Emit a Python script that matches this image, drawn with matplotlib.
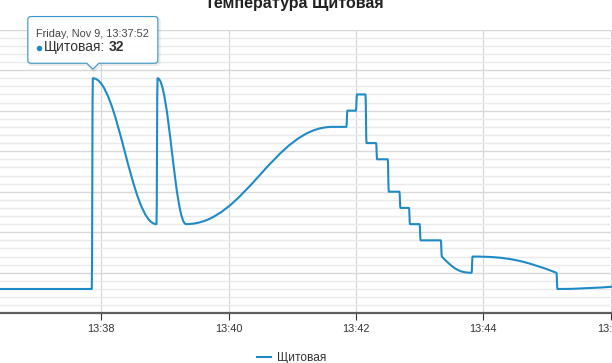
import datetime as dt
import matplotlib
matplotlib.use('Agg')
import matplotlib.pyplot as plt
import matplotlib.dates as mdates
from matplotlib.path import Path
from matplotlib.patches import PathPatch
from matplotlib.lines import Line2D

plt.rcParams['font.family'] = ['Liberation Sans', 'DejaVu Sans']

# data: sensor readings, Friday Nov 9
day = '2018-11-09'
times = ['13:36:00', '13:37:51', '13:37:52', '13:38:52', '13:38:53', '13:39:20',
         '13:41:38', '13:41:51', '13:41:52', '13:42:00', '13:42:01', '13:42:09',
         '13:42:10', '13:42:19', '13:42:20', '13:42:30', '13:42:31', '13:42:41',
         '13:42:42', '13:42:50', '13:42:51', '13:43:00', '13:43:01', '13:43:20',
         '13:43:21', '13:43:49', '13:43:50', '13:45:09', '13:45:10', '13:48:00']
values = [19, 19, 32, 23, 32, 23,
          29, 29, 30, 30, 31, 31,
          28, 28, 27, 27, 25, 25,
          24, 24, 23, 23, 22, 22,
          21, 20, 21, 20, 19, 20]
series_name = 'Щитовая'
title = 'Температура Щитовая'
hover_index = 2

x_start = '13:36:24.5'
x_end = '13:46:01.4'
y_min, y_max = 17.5, 35

color = '#1f8bc6'


def to_dt(s):
    return dt.datetime.fromisoformat(f'{day} {s}')


def spline_path(xs, ys):
    # highcharts style spline: smoothing 1.5, no overshoot
    n = len(xs)
    lc = [(x, y) for x, y in zip(xs, ys)]
    rc = [(x, y) for x, y in zip(xs, ys)]
    for i in range(1, n - 1):
        px, py = xs[i], ys[i]
        lx0, ly0 = xs[i - 1], ys[i - 1]
        nx, ny = xs[i + 1], ys[i + 1]
        lcx = (1.5 * px + lx0) / 2.5
        lcy = (1.5 * py + ly0) / 2.5
        rcx = (1.5 * px + nx) / 2.5
        rcy = (1.5 * py + ny) / 2.5
        if rcx != lcx:
            corr = (rcy - lcy) * (rcx - px) / (rcx - lcx) + py - rcy
            lcy += corr
            rcy += corr
        if lcy > ly0 and lcy > py:
            lcy = max(ly0, py)
            rcy = 2 * py - lcy
        elif lcy < ly0 and lcy < py:
            lcy = min(ly0, py)
            rcy = 2 * py - lcy
        if rcy > ny and rcy > py:
            rcy = max(ny, py)
            lcy = 2 * py - rcy
        elif rcy < ny and rcy < py:
            rcy = min(ny, py)
            lcy = 2 * py - rcy
        lc[i] = (lcx, lcy)
        rc[i] = (rcx, rcy)
    verts = [(xs[0], ys[0])]
    codes = [Path.MOVETO]
    for i in range(1, n):
        verts += [rc[i - 1], lc[i], (xs[i], ys[i])]
        codes += [Path.CURVE4] * 3
    return Path(verts, codes)


W, H = 612, 363
fig = plt.figure(figsize=(W / 100, H / 100), dpi=100)
ax_top, ax_bot = 29.6, 313.3
ax = fig.add_axes([0, 1 - ax_bot / H, 1, (ax_bot - ax_top) / H])

xs = mdates.date2num([to_dt(t) for t in times])
ax.add_patch(PathPatch(spline_path(list(xs), values), facecolor='none', edgecolor=color,
                       lw=1.5, joinstyle='round', capstyle='round', zorder=3))

ax.set_xlim(to_dt(x_start), to_dt(x_end))
ax.set_ylim(y_min, y_max)

ax.xaxis.set_major_locator(mdates.MinuteLocator(byminute=range(0, 60, 2)))
ax.xaxis.set_major_formatter(mdates.DateFormatter('%H:%M'))
ax.set_yticks([y_min + 2.5 * k for k in range(8)])
ax.set_yticks([y_min + 0.5 * k for k in range(36)], minor=True)

ax.grid(axis='x', which='major', color='#d4d4d4', lw=0.8)
ax.grid(axis='y', which='major', color='#d8d8d8', lw=1.0)
ax.grid(axis='y', which='minor', color='#eaeaea', lw=1.0)
ax.set_axisbelow(True)

ax.tick_params(axis='y', which='both', length=0, labelleft=False)
ax.tick_params(axis='x', which='major', length=5, width=0.8, color='#333333',
               pad=2.5, labelsize=7.9, labelcolor='#333333')
ax.tick_params(axis='x', which='minor', length=0)
for side in ['left', 'right', 'top']:
    ax.spines[side].set_visible(False)
ax.spines['bottom'].set_color('#5e5e5e')
ax.spines['bottom'].set_linewidth(1.6)
ax.spines['bottom'].set_zorder(4)

fig.text(294 / W, 1 - 8 / H, title, ha='center', va='baseline', fontsize=11.5,
         fontweight='bold', color='#222222')

fig.legend(handles=[Line2D([], [], color=color, lw=1.5)], labels=[series_name],
           loc='center', bbox_to_anchor=(291.7 / W, 1 - 358.5 / H), frameon=False,
           fontsize=8.6, handlelength=1.2, handletextpad=0.5, borderpad=0,
           labelcolor='#333333')

# tooltip overlay in pixel coords
ov = fig.add_axes([0, 0, 1, 1], zorder=10)
ov.set_xlim(0, W)
ov.set_ylim(H, 0)
ov.axis('off')

hx, hy = ax.transData.transform((xs[hover_index], values[hover_index]))
hy = H - hy
tip = hy - 9
l, r = hx - 65, hx + 65
b = tip - 6
t = b - 46.7
rr = 3
pts = [(l + rr, t), (r - rr, t), (r, t), (r, t + rr), (r, b - rr), (r, b), (r - rr, b),
       (hx + 6, b), (hx, tip), (hx - 6, b), (l + rr, b), (l, b), (l, b - rr),
       (l, t + rr), (l, t), (l + rr, t)]
cds = [Path.MOVETO, Path.LINETO, Path.CURVE3, Path.CURVE3, Path.LINETO, Path.CURVE3,
       Path.CURVE3, Path.LINETO, Path.LINETO, Path.LINETO, Path.LINETO, Path.CURVE3,
       Path.CURVE3, Path.LINETO, Path.CURVE3, Path.CURVE3]
callout = Path(pts, cds)
shadow = Path([(x + 1, y + 1) for x, y in pts], cds)
ov.add_patch(PathPatch(shadow, facecolor='none', edgecolor=(0, 0, 0, 0.08), lw=2.5))
ov.add_patch(PathPatch(callout, facecolor=(1, 1, 1, 0.93), edgecolor='#3a95c8', lw=0.8))

hover_dt = to_dt(times[hover_index])
header = f'{hover_dt:%A}, {hover_dt:%b} {hover_dt.day}, {hover_dt:%H:%M:%S}'
ov.text(l + 8.4, t + 17, header, fontsize=7.8, color='#444444', va='center', ha='left')
ov.plot([l + 10.8], [t + 31], 'o', ms=4, color=color, mew=0)
name_txt = ov.text(l + 16.5, t + 30.8, f'{series_name}:', fontsize=10,
                   color='#333333', va='center', ha='left')
ov.annotate(f'{values[hover_index]}', xy=(1, 0.5), xycoords=name_txt,
            xytext=(2.5, 0), textcoords='offset points', va='center',
            ha='left', fontsize=10, fontweight='bold', color='#333333')

fig.savefig('out.png', dpi=100)
